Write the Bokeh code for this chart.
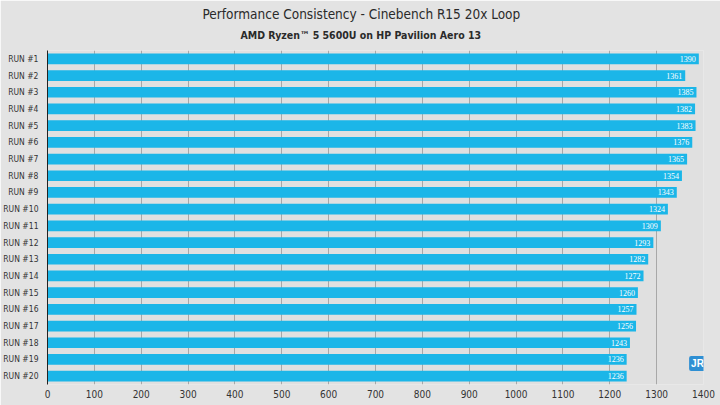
from bokeh.plotting import figure
from bokeh.models import ColumnDataSource, Label, LabelSet, FactorRange, Title
from bokeh.embed import file_html
from bokeh.resources import INLINE

runs = [f"RUN #{i}" for i in range(1, 21)]
scores = [1390, 1361, 1385, 1382, 1383, 1376, 1365, 1354, 1343, 1324,
          1309, 1293, 1282, 1272, 1260, 1257, 1256, 1243, 1236, 1236]
x_ticks = list(range(0, 1401, 100))
title_1 = "Performance Consistency - Cinebench R15 20x Loop"
title_2 = "AMD Ryzen\u2122 5 5600U on HP Pavilion Aero 13"

FONT = "DejaVu Sans Condensed, Roboto, sans-serif"
BAR = "#1bb6e8"

src = ColumnDataSource(dict(run=runs, score=scores, lab=[str(s) for s in scores]))

p = figure(width=720, height=405, y_range=FactorRange(*reversed(runs)),
           x_range=(0, 1400), output_backend="svg", toolbar_location=None,
           min_border_left=46, min_border_right=17, min_border_top=0,
           min_border_bottom=21, title=None)
p.background_fill_color = "#e0e0e0"
p.border_fill_color = "#e3e3e3"
p.outline_line_color = None

# spacer between subtitle and plot frame
p.add_layout(Title(text=" ", text_font_size="4px", standoff=0), "above")
p.add_layout(Title(text=title_2, align="left", text_font=FONT,
                   text_font_size="10.5px", text_font_style="bold",
                   text_color="#2a2a2a", standoff=5, offset=193), "above")
p.add_layout(Title(text=title_1, align="left", text_font=FONT,
                   text_font_size="13.5px", text_font_style="normal",
                   text_color="#2a2a2a", standoff=6, offset=155), "above")

p.hbar(y="run", right="score", left=0, height=0.64, source=src,
       fill_color=BAR, line_color=None)

labels = LabelSet(x="score", y="run", text="lab", source=src, x_offset=-3,
                  text_align="right", text_baseline="middle",
                  text_color="white", text_font=FONT, text_font_size="8px")
p.add_layout(labels)

p.xaxis.ticker = x_ticks
p.xaxis.axis_line_color = None
p.xaxis.major_tick_line_color = None
p.xaxis.major_tick_out = 0
p.xaxis.minor_tick_line_color = None
p.xaxis.major_label_text_font = FONT
p.xaxis.major_label_text_font_size = "10px"
p.xaxis.major_label_text_color = "#333333"
p.xaxis.major_label_standoff = 5

p.yaxis.axis_line_color = "#222222"
p.yaxis.axis_line_width = 1
p.yaxis.major_tick_line_color = None
p.yaxis.major_tick_out = 0
p.yaxis.minor_tick_line_color = None
p.yaxis.major_label_text_font = FONT
p.yaxis.major_label_text_font_size = "8.5px"
p.yaxis.major_label_text_color = "#333333"
p.yaxis.major_label_standoff = 9

p.xgrid.grid_line_color = "#a8a8a8"
p.xgrid.grid_line_width = 1
p.ygrid.grid_line_color = None

# small logo inside the frame, bottom-right
p.add_layout(Label(x=650, y=21, x_units="screen", y_units="screen", text="JR",
                   text_align="center", text_baseline="middle",
                   text_font="Liberation Sans", text_font_style="bold",
                   text_font_size="10px", text_color="white",
                   background_fill_color="#2e8fd3", padding=2, border_radius=2))

open("out.html", "w").write(file_html(p, INLINE))
